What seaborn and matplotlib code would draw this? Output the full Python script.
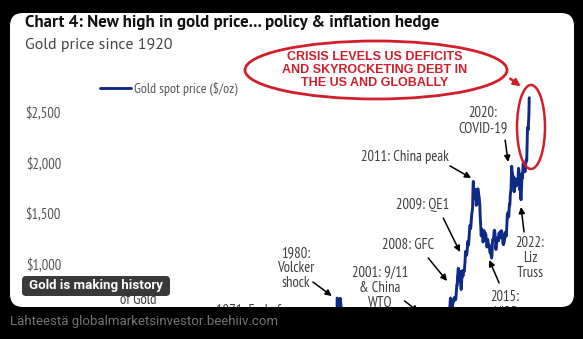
import matplotlib
matplotlib.use("Agg")
import matplotlib.pyplot as plt
import matplotlib.patches as mpatches
import seaborn as sns
import pandas as pd

# ---- gold spot price ($/oz) ----
annual_years = list(range(1920, 1979))
annual_prices = [
    20.67, 20.67, 20.67, 20.67, 20.67, 20.67, 20.67, 20.67, 20.67, 20.67,
    20.67, 20.67, 20.67, 26.33, 35.0, 35.0, 35.0, 35.0, 35.0, 35.0,
    35.0, 35.0, 35.0, 35.0, 35.0, 35.0, 35.0, 35.0, 35.0, 35.0,
    35.0, 35.0, 35.0, 35.0, 35.0, 35.0, 35.0, 35.0, 35.0, 35.0,
    35.0, 35.0, 35.0, 35.0, 35.0, 35.0, 35.0, 35.0, 39.3, 41.3,
    36.0, 40.8, 58.2, 97.3, 154.0, 160.9, 124.8, 147.8, 193.2,
]
monthly_1979_1982 = [
    227, 245, 242, 239, 257, 279, 295, 301, 355, 392, 392, 456,
    675, 665, 553, 517, 513, 600, 644, 627, 674, 661, 623, 595,
    557, 500, 499, 495, 480, 461, 409, 410, 443, 437, 413, 410,
    384, 374, 330, 350, 334, 315, 339, 364, 436, 422, 414, 444,
]
annual_years_b = list(range(1983, 2005))
annual_prices_b = [
    424, 361, 317, 368, 447, 437, 381, 383, 362, 344, 360,
    384, 384, 388, 331, 294, 279, 279, 271, 310, 363, 409,
]
monthly_2005_2024 = [
    424, 423, 434, 429, 422, 430, 424, 438, 456, 470, 476, 510,
    549, 555, 557, 610, 676, 596, 633, 632, 598, 585, 627, 629,
    631, 664, 655, 680, 668, 656, 665, 665, 712, 754, 806, 803,
    889, 922, 968, 909, 888, 890, 939, 839, 829, 806, 760, 816,
    858, 943, 925, 890, 928, 946, 934, 949, 996, 1043, 1127, 1135,
    1118, 1095, 1114, 1148, 1205, 1233, 1193, 1215, 1271, 1343, 1370, 1391,
    1356, 1372, 1424, 1474, 1510, 1529, 1572, 1756, 1820, 1665, 1739, 1652,
    1656, 1742, 1673, 1650, 1585, 1596, 1594, 1630, 1744, 1747, 1722, 1684,
    1671, 1627, 1593, 1487, 1414, 1343, 1286, 1347, 1349, 1316, 1275, 1225,
    1244, 1300, 1336, 1299, 1288, 1279, 1311, 1296, 1239, 1222, 1176, 1200,
    1251, 1227, 1179, 1198, 1199, 1181, 1129, 1117, 1125, 1157, 1086, 1068,
    1097, 1199, 1246, 1242, 1260, 1276, 1337, 1341, 1326, 1266, 1236, 1152,
    1192, 1234, 1231, 1266, 1246, 1260, 1236, 1283, 1315, 1280, 1283, 1265,
    1331, 1331, 1325, 1335, 1303, 1282, 1238, 1202, 1199, 1215, 1221, 1250,
    1291, 1320, 1300, 1285, 1283, 1359, 1413, 1500, 1511, 1495, 1471, 1480,
    1560, 1597, 1591, 1683, 1715, 1732, 1847, 1968, 1922, 1900, 1866, 1858,
    1867, 1808, 1718, 1760, 1850, 1834, 1807, 1785, 1775, 1777, 1821, 1790,
    1817, 1856, 1948, 1937, 1849, 1837, 1733, 1764, 1681, 1640, 1726, 1798,
    1898, 1853, 1913, 1999, 1992, 1942, 1951, 1918, 1916, 1916, 1985, 2027,
    2034, 2023, 2158, 2331, 2350, 2326, 2398, 2470, 2640,
]

y_ticks = [1000, 1500, 2000, 2500]
y_tick_labels = ["$1,000", "$1,500", "$2,000", "$2,500"]

# ---- assemble one series on a decimal-year axis ----
xs, ys = [], []
for yr, p in zip(annual_years, annual_prices):
    xs.append(yr + 0.5); ys.append(p)
for i, p in enumerate(monthly_1979_1982):
    xs.append(1979 + (i + 0.5) / 12); ys.append(p)
for yr, p in zip(annual_years_b, annual_prices_b):
    xs.append(yr + 0.5); ys.append(p)
for i, p in enumerate(monthly_2005_2024):
    xs.append(2005 + (i + 0.5) / 12); ys.append(p)
gold = pd.DataFrame({"year": xs, "price": ys})

W, H = 583, 339
BG = "#000000"
NAVY = "#0f2a86"
RED = "#d01f2b"
GREY = "#3f3f3f"
CHART_FONT = ["PT Sans", "DejaVu Sans"]
NARROW_FONT = ["PT Sans Narrow", "DejaVu Sans"]

sns.set_theme(style="white")
plt.rcParams["font.family"] = CHART_FONT

fig = plt.figure(figsize=(W / 100, H / 100), dpi=100, facecolor=BG)


def fx(px):
    return px / W


def fy(py):
    return 1 - py / H


# white card
card = mpatches.FancyBboxPatch(
    (0.10, 0.32), 5.64, 2.94,
    boxstyle="round,pad=0,rounding_size=0.13",
    transform=fig.dpi_scale_trans, facecolor="white", edgecolor="none", zorder=0,
)
fig.add_artist(card)

# plotting area
ax = fig.add_axes([fx(79), fy(307), fx(560.6) - fx(79), fy(80) - fy(307)])
ax.set_facecolor("none")
ax.set_zorder(2)
sns.lineplot(data=gold, x="year", y="price", ax=ax, color=NAVY, linewidth=2.1,
             label="Gold spot price ($/oz)")
ax.set_xlim(1920, 2032)
ax.set_ylim(588, 2814)
for s in ax.spines.values():
    s.set_visible(False)
ax.set_xticks([])
ax.set_yticks(y_ticks)
ax.set_yticklabels(y_tick_labels, family=NARROW_FONT)
ax.tick_params(axis="y", length=0, pad=13, labelsize=10.5, labelcolor="#555555")
ax.set_xlabel("")
ax.set_ylabel("")

leg = ax.legend(loc="center left", bbox_to_anchor=(fx(100), fy(89)),
                bbox_transform=fig.transFigure, frameon=False, borderpad=0,
                borderaxespad=0, handlelength=2.2, handletextpad=0.25,
                prop={"family": NARROW_FONT, "size": 10})
for t in leg.get_texts():
    t.set_color("#555555")

# titles
fig.text(fx(25), fy(22), "Chart 4: New high in gold price... policy & inflation hedge",
         fontsize=12.2, fontweight="bold", color="#111111", va="center", ha="left",
         family=CHART_FONT)
fig.text(fx(25), fy(45), "Gold price since 1920", fontsize=11.5, color="#444444",
         va="center", ha="left", family=CHART_FONT)

# event annotations: (text, text position, arrow tail, arrow head) in (year, $)
events = [
    ("2020:\nCOVID-19", (2013.9, 2412), (2019.1, 2225), (2019.8, 2010)),
    ("2011: China peak", (1995.8, 2059), (2006.3, 1971), (2011.2, 1853)),
    ("2009: QE1", (2000.0, 1588), (2004.7, 1461), (2008.6, 1127)),
    ("2008: GFC", (1996.5, 1196), (2001.2, 1069), (2005.6, 843)),
    ("2001: 9/11\n& China\nWTO", (1990.0, 775), (1995.7, 648), (1999.0, 540)),
    ("1980:\nVolcker\nshock", (1970.5, 971), (1974.4, 833), (1978.8, 696)),
    ("2015:\nNIRP", (2019.1, 608), (2017.7, 824), (2015.4, 1049)),
    ("2022:\nLiz\nTruss", (2024.9, 1069), (2023.5, 1324), (2022.8, 1569)),
    ("1971: End of", (1959.3, 559), None, None),
    ("of Gold", (1933.7, 657), None, None),
]
for label, pos, tail, head in events:
    ax.text(pos[0], pos[1], label, ha="center", va="center", fontsize=10.5,
            color=GREY, family=NARROW_FONT, linespacing=1.1, clip_on=True, zorder=3)
    if tail is not None:
        ax.annotate("", xy=head, xytext=tail,
                    arrowprops=dict(arrowstyle="-|>", color="black", lw=1.1,
                                    mutation_scale=9, shrinkA=0, shrinkB=0),
                    annotation_clip=False, zorder=3)

# red call-out
big_ell = mpatches.Ellipse((fx(376), fy(70)), fx(262), 58 / H, transform=fig.transFigure,
                           facecolor="none", edgecolor=RED, linewidth=2.0, zorder=4)
fig.add_artist(big_ell)
fig.text(fx(375), fy(70), "CRISIS LEVELS US DEFICITS\nAND SKYROCKETING DEBT IN\nTHE US AND GLOBALLY",
         ha="center", va="center", fontsize=9, fontweight="bold", color=RED,
         family=["Liberation Sans", "DejaVu Sans"], linespacing=1.12, zorder=5)
small_ell = mpatches.Ellipse((fx(531), fy(127)), fx(28), 84 / H, transform=fig.transFigure,
                             facecolor="none", edgecolor=RED, linewidth=1.8, zorder=4)
fig.add_artist(small_ell)
fig.add_artist(mpatches.FancyArrowPatch((fx(508), fy(77)), (fx(523), fy(88)),
                                        transform=fig.transFigure, arrowstyle="-|>",
                                        mutation_scale=10, color=RED, lw=1.8, zorder=5))

# media badge
badge = mpatches.FancyBboxPatch((0.22, 0.43), 1.48, 0.20,
                                boxstyle="round,pad=0,rounding_size=0.04",
                                transform=fig.dpi_scale_trans, facecolor="#2f2f2f",
                                edgecolor="none", alpha=0.95, zorder=6)
fig.add_artist(badge)
fig.text(fx(96), fy(286), "Gold is making history", ha="center", va="center",
         fontsize=9.5, fontweight="bold", color="white",
         family=["Roboto", "DejaVu Sans"], zorder=7)

# source line
fig.text(fx(10), fy(322), "Lähteestä globalmarketsinvestor.beehiiv.com", ha="left",
         va="center", fontsize=9.5, color="#71767b", family=["Roboto", "DejaVu Sans"])

fig.savefig("out.png", dpi=100, facecolor=BG)
